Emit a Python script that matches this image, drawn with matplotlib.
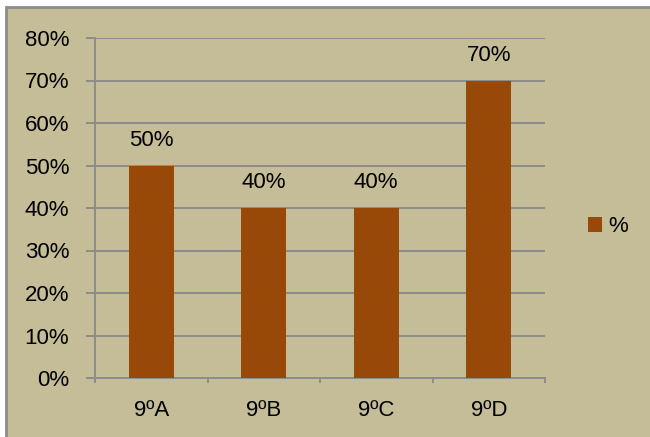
import matplotlib.pyplot as plt
from matplotlib.patches import Rectangle
from matplotlib.ticker import PercentFormatter

# Data
categories = ["9ºA", "9ºB", "9ºC", "9ºD"]
values = [50, 40, 40, 70]
series_name = "%"

BG_COL = "#C4BD97"
BAR_COL = "#984807"
GRID_COL = "#8C8C8C"
FONT = "Liberation Sans"
FS = 16

plt.rcParams["font.family"] = [FONT, "DejaVu Sans"]

W, H = 650, 437
fig = plt.figure(figsize=(W / 100, H / 100), dpi=100)
fig.patch.set_facecolor("white")

# Chart area background with gray border
bg = Rectangle((6 / W, -0.01), (W + 10 - 6) / W, (H - 7) / H + 0.01,
               transform=fig.transFigure, facecolor=BG_COL,
               edgecolor="#8C8C8C", linewidth=2, zorder=-10)
fig.add_artist(bg)

ax = fig.add_axes([95 / W, 1 - 378 / H, (545 - 95) / W, (378 - 38) / H])
ax.set_facecolor("none")
ax.set_zorder(5)

x = range(len(categories))
bars = ax.bar(x, values, width=0.4, color=BAR_COL, label=series_name, zorder=3)

for xi, v in zip(x, values):
    ax.text(xi, v + 4.6, f"{v}%", ha="center", va="baseline", fontsize=FS)

ax.set_xlim(-0.5, len(categories) - 0.5)
ax.set_ylim(0, 80)
ax.set_yticks(range(0, 81, 10))
ax.yaxis.set_major_formatter(PercentFormatter(decimals=0))
ax.grid(axis="y", color=GRID_COL, linewidth=1.4, zorder=1)

ax.set_xticks([i - 0.5 for i in range(len(categories) + 1)], minor=False)
ax.set_xticklabels([])
ax.set_xticks(list(x), minor=True)
ax.set_xticklabels(categories, minor=True)
ax.tick_params(axis="x", which="major", length=3.6, color=GRID_COL, width=1.4)
ax.tick_params(axis="x", which="minor", length=0, pad=16, labelsize=FS)
ax.tick_params(axis="y", length=6.5, color=GRID_COL, width=1.4, labelsize=FS, pad=12)

for side in ["top", "right"]:
    ax.spines[side].set_visible(False)
for side in ["left", "bottom"]:
    ax.spines[side].set_color(GRID_COL)
    ax.spines[side].set_linewidth(1.4)

ax.legend(loc="center left", bbox_to_anchor=(1.05, 0.445), frameon=False,
          fontsize=FS, handlelength=0.65, handleheight=0.65, handletextpad=0.3)

fig.savefig("out.png", dpi=100, facecolor=fig.get_facecolor())
